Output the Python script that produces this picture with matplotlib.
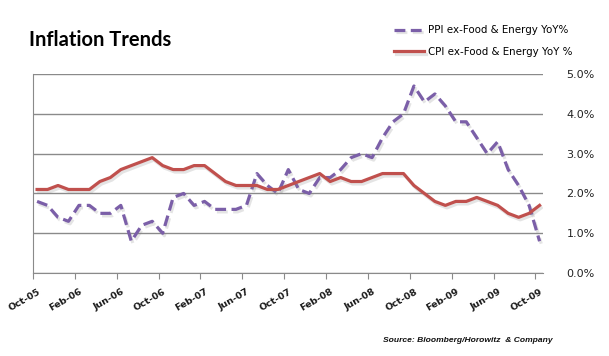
import numpy as np
import matplotlib
matplotlib.use('Agg')
import matplotlib.pyplot as plt
import matplotlib.patheffects as pe
import matplotlib.transforms as mtransforms
from matplotlib.ticker import FixedLocator, FuncFormatter

# Monthly data, Oct-05 .. Oct-09 (YoY %)
ppi_core = [1.8, 1.7, 1.4, 1.3, 1.7, 1.7, 1.5, 1.5, 1.7, 0.8, 1.2, 1.3,
            1.0, 1.9, 2.0, 1.7, 1.8, 1.6, 1.6, 1.6, 1.7, 2.5, 2.2, 2.0,
            2.6, 2.1, 2.0, 2.4, 2.4, 2.6, 2.9, 3.0, 2.9, 3.4, 3.8, 4.0,
            4.7, 4.3, 4.5, 4.2, 3.8, 3.8, 3.4, 3.0, 3.3, 2.6, 2.2, 1.7,
            0.8]
cpi_core = [2.1, 2.1, 2.2, 2.1, 2.1, 2.1, 2.3, 2.4, 2.6, 2.7, 2.8, 2.9,
            2.7, 2.6, 2.6, 2.7, 2.7, 2.5, 2.3, 2.2, 2.2, 2.2, 2.1, 2.1,
            2.2, 2.3, 2.4, 2.5, 2.3, 2.4, 2.3, 2.3, 2.4, 2.5, 2.5, 2.5,
            2.2, 2.0, 1.8, 1.7, 1.8, 1.8, 1.9, 1.8, 1.7, 1.5, 1.4, 1.5,
            1.7]
tick_labels = ['Oct-05', 'Feb-06', 'Jun-06', 'Oct-06', 'Feb-07', 'Jun-07', 'Oct-07',
               'Feb-08', 'Jun-08', 'Oct-08', 'Feb-09', 'Jun-09', 'Oct-09']
y_ticks = [0, 1, 2, 3, 4, 5]

months = np.arange(len(cpi_core)) + 0.4  # points sit a little after each month tick

fig = plt.figure(figsize=(6.09, 3.56), dpi=100)
ax = fig.add_axes([0.054, 0.233, 0.838, 0.559])

grid_col = '#8a8a8a'
shadow = [pe.SimpleLineShadow(offset=(1.2, -1.8), shadow_color='#888888', alpha=0.22), pe.Normal()]

ax.plot(months, ppi_core, color='#7b5fa8', lw=2.3, dashes=(3.4, 1.7),
        label='PPI ex-Food & Energy YoY%', path_effects=shadow)
ax.plot(months, cpi_core, color='#c0504d', lw=2.3,
        label='CPI ex-Food & Energy YoY %', path_effects=shadow)

ax.set_xlim(0, 48.75)
ax.set_ylim(0, 5)

ax.xaxis.set_major_locator(FixedLocator(np.arange(0, 49, 4)))
ax.set_xticklabels(tick_labels)
ax.yaxis.set_major_locator(FixedLocator(y_ticks))
ax.yaxis.set_major_formatter(FuncFormatter(lambda v, p: f'{v:.1f}%'))
ax.yaxis.tick_right()
ax.grid(axis='y', color=grid_col, lw=1)
ax.set_axisbelow(True)

for s in ['top', 'right']:
    ax.spines[s].set_visible(False)
ax.spines['left'].set_color(grid_col)
ax.spines['bottom'].set_color(grid_col)

ax.tick_params(axis='y', length=0, pad=12, labelsize=8, labelcolor='#222222')
ax.tick_params(axis='x', length=4, color=grid_col, pad=6, labelsize=6.8, labelcolor='#1a1a1a')

offset = mtransforms.ScaledTranslation(9 / 100, 0, fig.dpi_scale_trans)
for lbl in ax.get_xticklabels():
    lbl.set_rotation(30)
    lbl.set_ha('right')
    lbl.set_fontweight('bold')
    lbl.set_transform(lbl.get_transform() + offset)
for lbl in ax.get_yticklabels():
    lbl.set_ha('right')
    lbl.set_transform(lbl.get_transform() + mtransforms.ScaledTranslation(35 / 100, 0, fig.dpi_scale_trans))

fig.text(0.048, 0.872, 'Inflation Trends', fontsize=14.5, fontweight='bold', family='Lato', color='black')

leg = fig.legend(loc='upper left', bbox_to_anchor=(0.632, 0.955), frameon=False,
                 fontsize=7.4, handlelength=2.9, handletextpad=0.4, labelspacing=1.15)

fig.text(0.629, 0.04, 'Source: Bloomberg/Horowitz  & Company', fontsize=6.1, fontstyle='italic',
         fontweight='bold', family='Liberation Sans', color='#111111')

fig.savefig('out.png', dpi=100)
